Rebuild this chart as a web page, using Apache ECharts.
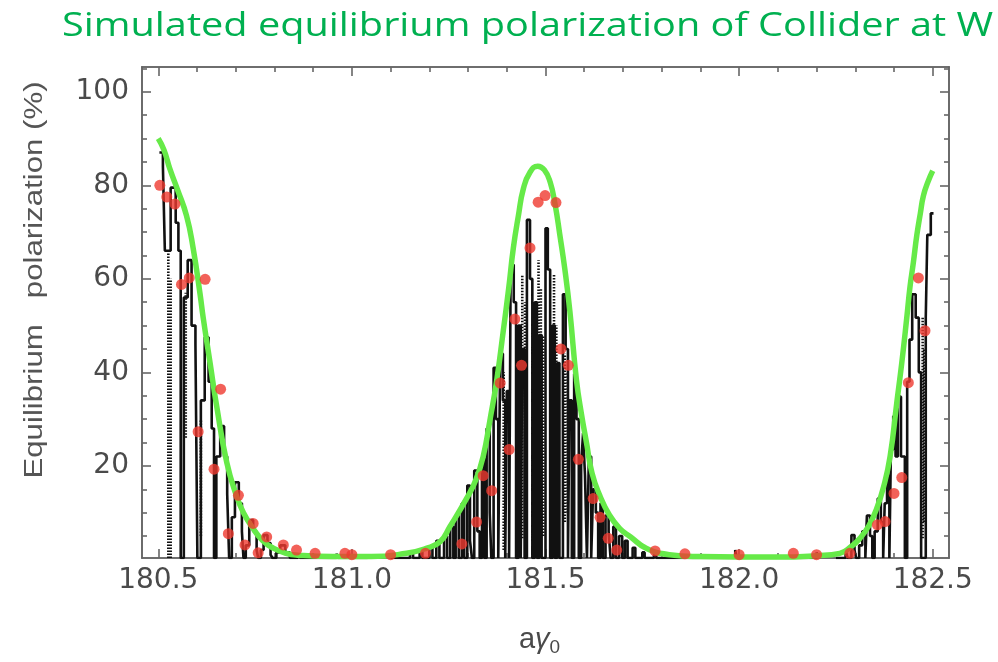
<!DOCTYPE html>
<html>
<head>
<meta charset="utf-8">
<style>
  html, body { margin: 0; padding: 0; background: #fff; }
  #chart { width: 998px; height: 662px; }
</style>
<script src="https://cdn.jsdelivr.net/npm/echarts@6/dist/echarts.min.js"></script>
</head>
<body>
<div id="chart"></div>
<script>
// Axis ranges and tick values
const xRange = [180.458, 182.542];
const yRange = [0.3, 105.3];
const xMajorTicks = [180.5, 181.0, 181.5, 182.0, 182.5];
const xMinorTicks = [180.6, 180.7, 180.8, 180.9, 181.1, 181.2, 181.3, 181.4, 181.6, 181.7, 181.8, 181.9, 182.1, 182.2, 182.3, 182.4];
const yMajorTicks = [20, 40, 60, 80, 100];
const yMinorTicks = [5, 10, 15, 25, 30, 35, 45, 50, 55, 65, 70, 75, 85, 90, 95, 105];

// Simulated polarization, step trace [a*gamma0, P%]
const traceLeft = [
  [180.503, 87], [180.512, 84], [180.517, 66], [180.532, 79.5], [180.545, 72], [180.552, 66], [180.558, 0.3],
  [180.566, 56], [180.576, 64], [180.586, 50], [180.596, 46], [180.601, 0.3],
  [180.61, 34], [180.62, 47.5], [180.63, 38], [180.638, 28], [180.644, 0.3],
  [180.65, 22], [180.66, 28.5], [180.67, 22], [180.678, 14], [180.683, 0.3],
  [180.69, 9], [180.698, 16.5], [180.708, 12], [180.716, 6], [180.72, 0.3],
  [180.726, 3], [180.735, 8.4], [180.745, 6], [180.754, 2], [180.758, 0.3],
  [180.765, 2], [180.772, 5.2], [180.782, 3.5], [180.79, 1], [180.795, 0.3],
  [180.805, 1.5], [180.815, 3], [180.828, 1.5], [180.84, 0.3],
  [180.86, 1], [180.866, 0.3], [180.96, 1.2], [180.965, 0.3], [181.04, 1], [181.045, 0.3]
];
const traceMiddle = [
  [181.10, 0.3], [181.15, 1.2], [181.158, 0.3], [181.175, 2], [181.182, 0.3],
  [181.20, 2.5], [181.208, 0.3], [181.218, 4], [181.226, 0.3], [181.238, 5], [181.246, 0.3],
  [181.254, 7], [181.262, 0.3], [181.268, 9.4], [181.276, 0.3], [181.284, 12], [181.29, 0.3],
  [181.298, 15.8], [181.305, 4], [181.31, 0.3], [181.316, 19], [181.324, 6], [181.33, 0.3],
  [181.336, 21.5], [181.342, 0.3], [181.348, 28], [181.356, 10], [181.36, 0.3],
  [181.366, 41], [181.372, 30], [181.378, 0.3], [181.383, 44], [181.39, 34], [181.396, 0.3],
  [181.40, 36], [181.406, 0.3], [181.41, 63], [181.418, 55], [181.424, 0.3],
  [181.43, 50], [181.436, 0.3], [181.44, 45], [181.446, 0.3],
  [181.452, 72.6], [181.46, 60], [181.466, 0.3], [181.472, 55], [181.478, 0.3],
  [181.484, 48], [181.49, 0.3], [181.50, 70.8], [181.506, 62], [181.512, 0.3],
  [181.518, 50], [181.524, 0.3], [181.53, 42], [181.536, 0.3],
  [181.545, 56.7], [181.552, 45], [181.558, 0.3], [181.562, 34], [181.568, 0.3],
  [181.574, 39.7], [181.58, 30], [181.586, 0.3], [181.592, 20], [181.597, 27], [181.602, 18], [181.607, 0.3],
  [181.612, 22], [181.618, 0.3], [181.623, 15], [181.63, 10], [181.636, 0.3],
  [181.642, 12], [181.648, 0.3], [181.655, 9.4], [181.663, 6], [181.668, 0.3],
  [181.675, 7], [181.682, 0.3], [181.69, 5], [181.698, 0.3], [181.705, 4], [181.712, 0.3],
  [181.725, 2.5], [181.732, 0.3], [181.75, 1.5], [181.756, 0.3], [181.78, 1], [181.786, 0.3],
  [181.99, 2], [181.994, 0.3], [182.2, 1.5], [182.204, 0.3]
];
const traceRight = [
  [182.25, 0.3], [182.275, 2], [182.28, 0.3],
  [182.29, 5.2], [182.298, 2], [182.302, 0.3], [182.31, 3], [182.318, 6], [182.326, 0.3],
  [182.33, 9.4], [182.338, 5], [182.344, 0.3], [182.35, 6], [182.358, 13], [182.366, 8], [182.372, 0.3],
  [182.376, 12], [182.382, 17.9], [182.388, 0.3], [182.392, 23.5], [182.398, 30.6], [182.404, 22],
  [182.41, 34.8], [182.418, 22], [182.428, 0.3], [182.434, 38], [182.44, 47], [182.447, 56.7],
  [182.456, 51.7], [182.464, 40], [182.47, 0.3], [182.482, 51.7], [182.486, 69.4], [182.495, 74], [182.502, 74]
];

// Dense sub-resonance columns: [a*gamma0, low P%, high P%]
const resonanceColumns = [
  [180.526, 0.3, 66], [180.532, 0.3, 60], [180.571, 26, 57], [180.61, 5, 30],
  [181.392, 2, 40], [181.44, 4.5, 61], [181.447, 8, 55], [181.482, 17, 64], [181.488, 10, 58],
  [181.494, 5, 48], [181.522, 6.6, 61], [181.528, 5, 50], [181.55, 8, 44], [181.557, 10, 40],
  [182.474, 4.5, 51.7], [182.478, 8, 45]
];

// Tracking results (points)
const trackingX = [
  180.504, 180.522, 180.543, 180.56, 180.58, 180.621, 180.603, 180.661, 180.644, 180.681, 180.707,
  180.724, 180.745, 180.758, 180.78, 180.823, 180.857, 180.905, 180.982,
  181.0, 181.1, 181.19, 181.284, 181.322, 181.339, 181.361, 181.383, 181.406, 181.421, 181.438,
  181.46, 181.481, 181.499, 181.527, 181.54, 181.559, 181.585, 181.623, 181.641, 181.662, 181.684,
  181.783, 181.86, 182.0, 182.14, 182.2,
  182.286, 182.357, 182.377, 182.40, 182.42, 182.437, 182.463, 182.48
];
const trackingY = [
  80, 77.5, 76, 58.8, 60.2, 59.9, 27.3, 36.4, 19.3, 5.5, 13.7,
  3.1, 7.7, 1.4, 4.8, 3.1, 2.0, 1.3, 1.3,
  1.0, 1.0, 1.3, 3.3, 8, 17.9, 14.7, 37.7, 23.5, 51.4, 41.5,
  66.6, 76.4, 77.8, 76.3, 45, 41.5, 21.4, 13, 9, 4.5, 2,
  1.8, 1.2, 1.0, 1.3, 1.0,
  1.3, 7.4, 8.1, 14.1, 17.5, 37.8, 60.2, 48.9
];

// Analytic estimate (green curve)
const modelX = [
  180.50, 180.515, 180.53, 180.55, 180.573, 180.59, 180.608, 180.616, 180.634, 180.651, 180.677,
  180.702, 180.72, 180.745, 180.77, 180.797, 180.83, 180.86, 180.95, 181.05,
  181.141, 181.19, 181.228, 181.253, 181.296, 181.32, 181.339, 181.357, 181.374, 181.391, 181.405,
  181.417, 181.43, 181.443, 181.46, 181.48, 181.497, 181.512, 181.525, 181.537, 181.55, 181.563,
  181.58, 181.593, 181.606, 181.62, 181.64, 181.665, 181.692, 181.72, 181.76, 181.82, 181.9,
  182.0, 182.1, 182.2, 182.26, 182.29, 182.312, 182.335, 182.355, 182.373, 182.39, 182.407,
  182.42, 182.433, 182.441, 182.45, 182.459, 182.468, 182.476, 182.488, 182.5
];
const modelY = [
  90, 87.5, 83.5, 79, 73.5, 66.6, 56.7, 51.7, 41.9, 32.7, 20.7,
  13.6, 10, 6.6, 4, 2.4, 1.3, 0.9, 0.6, 0.6,
  1.3, 2.3, 3.8, 7, 13, 17, 22, 30, 38.3, 48.9, 58,
  66.6, 73.5, 79.3, 82.8, 84.1, 83.3, 80.7, 75.8, 69.4, 62, 53,
  38.3, 31, 24.9, 18.5, 13.7, 9.5, 6.6, 4.8, 2.4, 1.0, 0.6,
  0.5, 0.5, 0.8, 1.3, 2.8, 4.5, 7.2, 10.8, 15.5, 22.1, 33.4,
  42, 51.7, 58.1, 63.5, 69.4, 74, 77.8, 80.8, 83.1
];

// Assemble the column segments, separated by gaps
const columnData = [];
resonanceColumns.forEach(function (c) {
  columnData.push([c[0], c[1]], [c[0], c[2]], [c[0], '-']);
});

const frameColor = '#666';
const labelColor = '#4a4a4a';
const tickFont = 'DejaVu Sans';
const nameFont = 'Liberation Sans';

function tickAxis(pos, vals, len, isX, withLabels, extra) {
  const range = isX ? xRange : yRange;
  const ax = {
    type: 'value',
    position: pos,
    min: range[0],
    max: range[1],
    splitLine: { show: false },
    axisLine: { show: true, lineStyle: { color: frameColor, width: 1.6 } },
    axisTick: { show: true, inside: true, length: len, customValues: vals, lineStyle: { color: frameColor, width: 1.6 } },
    axisLabel: withLabels
      ? { show: true, customValues: vals, color: labelColor, fontFamily: tickFont, fontSize: 28, margin: isX ? 9 : 13,
          formatter: function (v) { return isX ? v.toFixed(1) : String(Math.round(v)); } }
      : { show: false }
  };
  return Object.assign(ax, extra || {});
}

const chart = echarts.init(document.getElementById('chart'), null, { renderer: 'canvas' });
chart.setOption({
  animation: false,
  backgroundColor: '#ffffff',
  graphic: [
    {
      type: 'text', left: 62, top: 11, scaleX: 1.24, originX: 0,
      style: { text: 'Simulated equilibrium polarization of Collider at W', fill: '#00b050',
               font: '32px "Open Sans"' }
    },
    {
      type: 'text', x: 35, y: 280, rotation: Math.PI / 2, scaleX: 1.2,
      style: { text: 'Equilibrium   polarization (%)', fill: '#555', font: '26px "Liberation Sans"',
               align: 'center', verticalAlign: 'middle' }
    }
  ],
  grid: { left: 142, top: 67, width: 807, height: 496, containLabel: false },
  xAxis: [
    tickAxis('bottom', xMajorTicks, 9, true, true, {
      name: '{a|a}{g|γ}{s|0}',
      nameLocation: 'middle',
      nameGap: 64,
      nameTextStyle: {
        padding: [0, 12, 0, 0],
        rich: {
          a: { fontFamily: nameFont, fontSize: 29, color: labelColor },
          g: { fontFamily: nameFont, fontSize: 29, color: labelColor, fontStyle: 'italic' },
          s: { fontFamily: nameFont, fontSize: 19, color: labelColor, padding: [16, 0, 0, 0] }
        }
      }
    }),
    tickAxis('bottom', xMinorTicks, 5, true, false),
    tickAxis('top', xMajorTicks, 9, true, false),
    tickAxis('top', xMinorTicks, 5, true, false)
  ],
  yAxis: [
    tickAxis('left', yMajorTicks, 9, false, true),
    tickAxis('left', yMinorTicks, 5, false, false),
    tickAxis('right', yMajorTicks, 9, false, false),
    tickAxis('right', yMinorTicks, 5, false, false)
  ],
  series: [
    {
      type: 'line', data: columnData, showSymbol: false, connectNulls: false,
      lineStyle: { color: '#111', width: 2.6, type: [1.5, 1.5] }, z: 2
    },
    { type: 'line', data: traceLeft, step: 'end', showSymbol: false, lineStyle: { color: '#111', width: 2.6 }, z: 3 },
    { type: 'line', data: traceMiddle, step: 'end', showSymbol: false, lineStyle: { color: '#111', width: 2.6 }, z: 3 },
    { type: 'line', data: traceRight, step: 'end', showSymbol: false, lineStyle: { color: '#111', width: 2.6 }, z: 3 },
    {
      type: 'line', data: modelX.map(function (x, i) { return [x, modelY[i]]; }),
      smooth: true, showSymbol: false, lineStyle: { color: '#66ea48', width: 5.5 }, z: 4
    },
    {
      type: 'scatter', data: trackingX.map(function (x, i) { return [x, trackingY[i]]; }),
      symbol: 'circle', symbolSize: 11, itemStyle: { color: '#ef3a30' }, z: 5
    }
  ]
});
</script>
</body>
</html>
